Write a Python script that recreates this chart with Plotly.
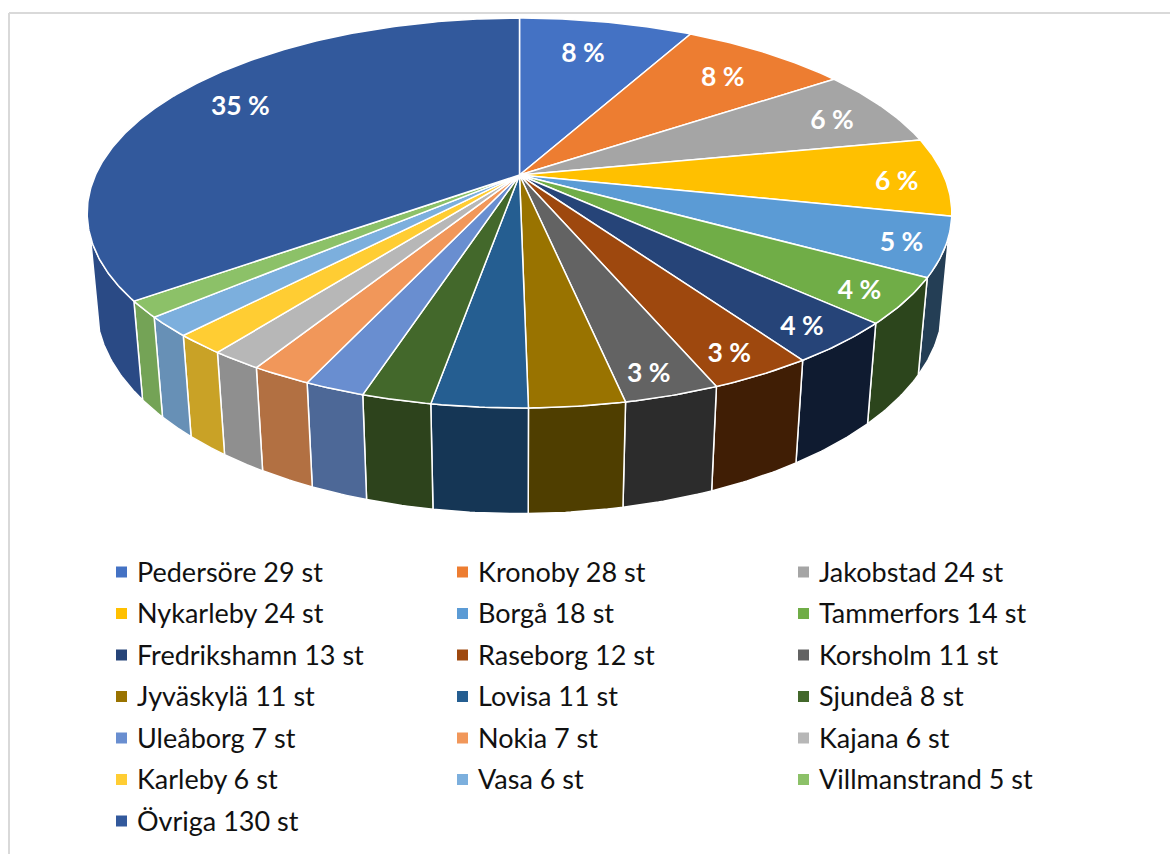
import math
import plotly.graph_objects as go

# --- data ---
places = ["Pedersöre", "Kronoby", "Jakobstad", "Nykarleby", "Borgå", "Tammerfors",
          "Fredrikshamn", "Raseborg", "Korsholm", "Jyväskylä", "Lovisa", "Sjundeå",
          "Uleåborg", "Nokia", "Kajana", "Karleby", "Vasa", "Villmanstrand", "Övriga"]
counts = [29, 28, 24, 24, 18, 14, 13, 12, 11, 11, 11, 8, 7, 7, 6, 6, 6, 5, 130]
labelled = ["Pedersöre", "Kronoby", "Jakobstad", "Nykarleby", "Borgå", "Tammerfors",
            "Fredrikshamn", "Raseborg", "Korsholm", "Övriga"]

# --- styles ---
top_colors = ["#4472C4", "#ED7D31", "#A5A5A5", "#FFC000", "#5B9BD5", "#70AD47",
              "#264478", "#9E480E", "#636363", "#997300", "#255E91", "#43682B",
              "#698ED0", "#F1975A", "#B7B7B7", "#FFCD33", "#7CAFDD", "#8CC168", "#32599C"]
side_colors = ["#2F4F88", "#A45722", "#727272", "#B08500", "#243E55", "#2C451C",
               "#0F1B30", "#401E05", "#2C2C2C", "#4F3E00", "#153655", "#2D431C",
               "#4D6897", "#B27042", "#8F8F8F", "#C9A226", "#6790B6", "#74A356", "#2A4A85"]
# small placement tweaks for the percentage labels, in pixels
label_nudge = {"Pedersöre": (-7, 4), "Kronoby": (1, 4), "Jakobstad": (10, 4), "Nykarleby": (16, 7),
               "Borgå": (13, 7), "Tammerfors": (1, 7), "Fredrikshamn": (-4, 4), "Raseborg": (-7, 2),
               "Korsholm": (-8, 2), "Övriga": (10, -2)}

# --- perspective model of the disc, in page pixels ---
CX, CY = 519.5, 175.0
B, A, C = 424.0, 187.5, 92.0
K, M = 0.195, 0.0204
WALL_FROM, WALL_TO = math.radians(108), math.radians(252)  # part of the rim whose wall shows


def project(angle, r=1.0, z=0.0):
    """angle clockwise from twelve o'clock; z=0 top face, z=1 bottom face."""
    X, Y = r * math.sin(angle), -r * math.cos(angle)
    w = 1 - K * Y + M * z
    return CX + B * X / w, CY + (A * Y + C * z) / w


total = sum(counts)
starts, ends, run = [], [], 0
for c in counts:
    starts.append(run / total * 2 * math.pi)
    run += c
    ends.append(run / total * 2 * math.pi)


def arc(a0, a1, z=0.0):
    n = max(4, int((a1 - a0) / 0.01))
    return [project(a0 + (a1 - a0) * i / n, 1.0, z) for i in range(n + 1)]


fig = go.Figure()

# outer walls, only where the rim faces the viewer
for i in range(len(counts)):
    a0, a1 = max(starts[i], WALL_FROM), min(ends[i], WALL_TO)
    if a1 <= a0:
        continue
    pts = arc(a0, a1, 0.0) + arc(a0, a1, 1.0)[::-1]
    pts.append(pts[0])
    fig.add_trace(go.Scatter(x=[p[0] for p in pts], y=[p[1] for p in pts], mode="lines",
                             fill="toself", fillcolor=side_colors[i],
                             line=dict(color="#FFFFFF", width=1.5),
                             name=places[i], hoverinfo="skip", showlegend=False))

# top faces
for i in range(len(counts)):
    pts = [project(0, 0)] + arc(starts[i], ends[i], 0.0) + [project(0, 0)]
    fig.add_trace(go.Scatter(x=[p[0] for p in pts], y=[p[1] for p in pts], mode="lines",
                             fill="toself", fillcolor=top_colors[i],
                             line=dict(color="#FFFFFF", width=1.5),
                             name=places[i], text=f"{places[i]} {counts[i]} st",
                             hoverinfo="text", showlegend=False))

# data labels
lx, ly, lt = [], [], []
for i, p in enumerate(places):
    if p in labelled:
        mid = (starts[i] + ends[i]) / 2
        r = 0.85 - 0.07 * math.cos(mid)
        x, y = project(mid, r)
        lx.append(x + label_nudge[p][0])
        ly.append(y + label_nudge[p][1])
        lt.append(f"{round(counts[i] / total * 100)} %")
fig.add_trace(go.Scatter(x=lx, y=ly, mode="text", text=lt, hoverinfo="skip", showlegend=False,
                         textposition="middle center",
                         textfont=dict(family="Lato", size=26.5, color="#FFFFFF", weight="bold")))

# legend laid out in three columns
LEG_X, LEG_DX, LEG_Y, LEG_DY = 121.5, 341.0, 572.0, 41.5
annotations = []
mx, my = [], []
for i, (p, c) in enumerate(zip(places, counts)):
    col, row = i % 3, i // 3
    mx.append(LEG_X + col * LEG_DX)
    my.append(LEG_Y + row * LEG_DY)
    annotations.append(dict(x=mx[-1] + 13.0, y=my[-1] - 1, xref="x", yref="y", xanchor="left", yanchor="middle",
                            text=f"{p} {c} st", showarrow=False,
                            font=dict(family="Lato", size=27, color="#111111")))
fig.add_trace(go.Scatter(x=mx, y=my, mode="markers", hoverinfo="skip", showlegend=False,
                         marker=dict(symbol="square", size=11, color=top_colors, line=dict(width=0))))

fig.update_layout(
    width=1170, height=854, margin=dict(l=0, r=0, t=0, b=0),
    paper_bgcolor="#FFFFFF", plot_bgcolor="#FFFFFF", showlegend=False,
    xaxis=dict(range=[0, 1170], visible=False, fixedrange=True),
    yaxis=dict(range=[854, 0], visible=False, fixedrange=True),
    annotations=annotations,
    shapes=[
        dict(type="line", xref="x", yref="y", x0=9, x1=9, y0=13, y1=854, line=dict(color="#D9D9D9", width=2), layer="below"),
        dict(type="line", xref="x", yref="y", x0=9, x1=1170, y0=13, y1=13, line=dict(color="#D9D9D9", width=2), layer="below"),
    ],
)
fig.write_html("out.html", config=dict(displayModeBar=False),
               post_script="document.body.style.margin='0';")
